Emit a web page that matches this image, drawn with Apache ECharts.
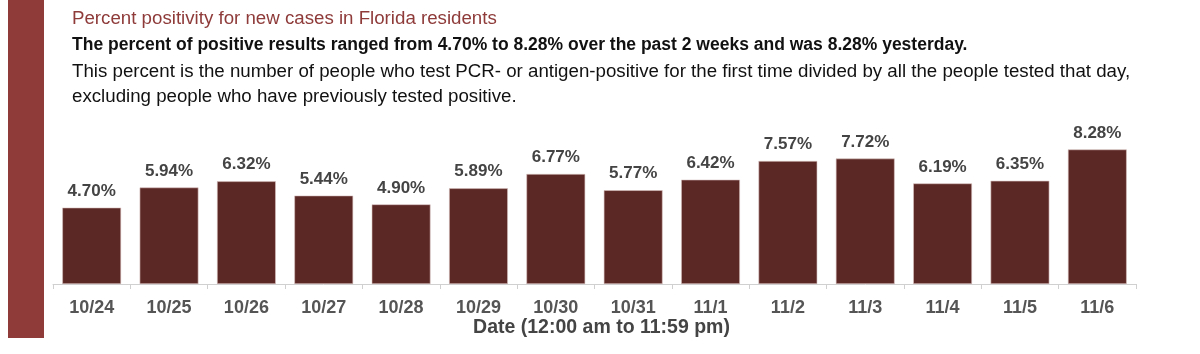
<!DOCTYPE html>
<html><head><meta charset="utf-8">
<script src="https://cdn.jsdelivr.net/npm/echarts@6/dist/echarts.min.js"></script>
<style>html,body{margin:0;padding:0;background:#fff}#c{width:1200px;height:354px}</style>
</head><body><div id="c"></div>
<script>
const categories = ['10/24','10/25','10/26','10/27','10/28','10/29','10/30','10/31','11/1','11/2','11/3','11/4','11/5','11/6'];
const positivity = [4.70, 5.94, 6.32, 5.44, 4.90, 5.89, 6.77, 5.77, 6.42, 7.57, 7.72, 6.19, 6.35, 8.28];
const titleText = 'Percent positivity for new cases in Florida residents';
const subtitleText = 'The percent of positive results ranged from 4.70% to 8.28% over the past 2 weeks and was 8.28% yesterday.';
const descLine1 = 'This percent is the number of people who test PCR- or antigen-positive for the first time divided by all the people tested that day,';
const descLine2 = 'excluding people who have previously tested positive.';
const axisName = 'Date (12:00 am to 11:59 pm)';

const FONT2 = '"Liberation Sans", Arial, sans-serif';
const chart = echarts.init(document.getElementById('c'), null, {renderer: 'canvas'});
chart.setOption({
  animation: false,
  backgroundColor: '#fff',
  graphic: [
    {type: 'rect', shape: {x: 8, y: 0, width: 36, height: 338}, style: {fill: '#8E3B3A'}}
  ],
  title: [
    {text: titleText, left: 67, top: 4.5, textStyle: {fontFamily: FONT2, fontSize: 18.7, fontWeight: 'normal', color: '#8E3B3A'}},
    {text: subtitleText, left: 67, top: 31, textStyle: {fontFamily: FONT2, fontSize: 17.5, fontWeight: 'bold', color: '#111'}},
    {text: descLine1, left: 67, top: 57, textStyle: {fontFamily: FONT2, fontSize: 18.7, fontWeight: 'normal', color: '#111'}},
    {text: descLine2, left: 67, top: 82.5, textStyle: {fontFamily: FONT2, fontSize: 18.7, fontWeight: 'normal', color: '#111'}}
  ],
  grid: {left: 53, right: 64, top: 121.5, bottom: 70, containLabel: false},
  xAxis: {
    type: 'category',
    data: categories,
    axisLine: {lineStyle: {color: '#d0d0d0', width: 1}},
    axisTick: {show: true, length: 5, lineStyle: {color: '#d0d0d0'}},
    axisLabel: {fontFamily: FONT2, fontSize: 18, fontWeight: 'bold', color: '#555', margin: 15},
    name: axisName,
    nameLocation: 'middle',
    nameGap: 30,
    nameTextStyle: {fontFamily: FONT2, fontSize: 19.5, fontWeight: 'bold', color: '#444', padding: [0, 0, 0, 14]}
  },
  yAxis: {
    type: 'value', min: 0, max: 10, show: false,
    splitLine: {show: false}
  },
  series: [{
    type: 'bar',
    data: positivity,
    barCategoryGap: '24%',
    itemStyle: {color: '#5C2825', borderColor: '#d9c3c1', borderWidth: 0.6},
    label: {
      show: true, position: 'top', distance: 8,
      formatter: p => p.value.toFixed(2) + '%',
      fontFamily: FONT2, fontSize: 17, fontWeight: 'bold', color: '#444'
    }
  }]
});
</script></body></html>
